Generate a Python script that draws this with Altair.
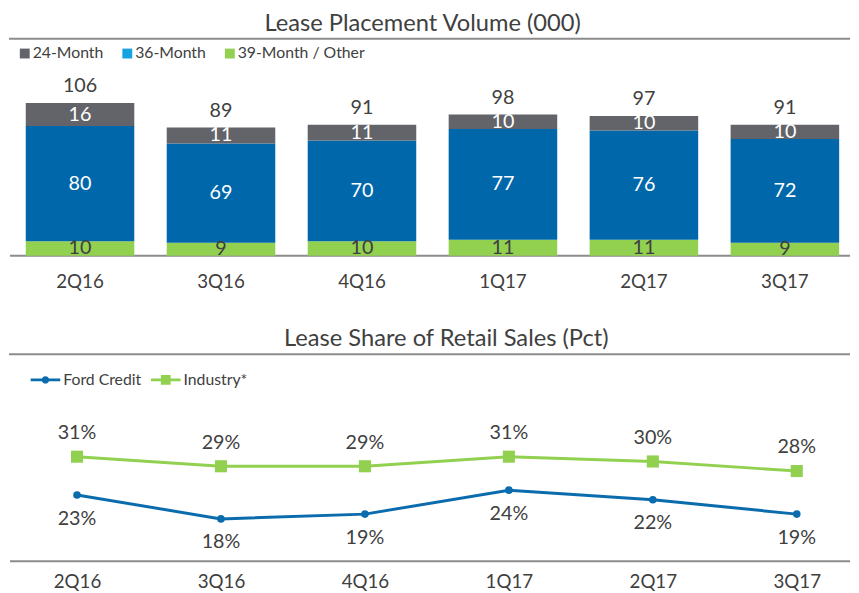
import altair as alt
import pandas as pd

# ---------------- data ----------------
quarters = ["2Q16", "3Q16", "4Q16", "1Q17", "2Q17", "3Q17"]
bar_series = ["24-Month", "36-Month", "39-Month / Other"]
m24 = [16, 11, 11, 10, 10, 10]
m36 = [80, 69, 70, 77, 76, 72]
m39 = [10, 9, 10, 11, 11, 9]
totals = [106, 89, 91, 98, 97, 91]

line_series = ["Ford Credit", "Industry*"]
ford = [23, 18, 19, 24, 22, 19]
industry = [31, 29, 29, 31, 30, 28]

# ---------------- style ----------------
FONT = "Lato"
TEXT = "#404040"
RULE = "#8c8c8c"
W = 851
H1 = 220
H2 = 210

BAR_COLORS = ["#636469", "#0068aa", "#92d050"]
BAR_LEGEND_COLORS = ["#636469", "#17a2e0", "#92d050"]
LINE_COLORS = ["#0a6cad", "#92d050"]

# ---------------- tables ----------------
rows = []
for i, q in enumerate(quarters):
    base = 0
    for s, vals in [("39-Month / Other", m39), ("36-Month", m36), ("24-Month", m24)]:
        v = vals[i]
        rows.append({"quarter": q, "series": s, "value": v,
                     "y0": base, "y1": base + v, "mid": base + v / 2})
        base += v
bars_df = pd.DataFrame(rows)
tot_df = pd.DataFrame({"quarter": quarters, "total": totals})

line_rows = []
for i, q in enumerate(quarters):
    line_rows.append({"quarter": q, "series": "Ford Credit", "value": ford[i],
                      "label": f"{ford[i]}%"})
    line_rows.append({"quarter": q, "series": "Industry*", "value": industry[i],
                      "label": f"{industry[i]}%"})
line_df = pd.DataFrame(line_rows)

one = pd.DataFrame({"a": [0]})

# ---------------- top panel ----------------
xb = alt.X("quarter:N", sort=quarters,
           scale=alt.Scale(domain=quarters, range=[15, 840], paddingInner=0.23, paddingOuter=0),
           axis=alt.Axis(title=None, domain=False, ticks=False, labelAngle=0, labelFont=FONT,
                         labelFontSize=19, labelColor=TEXT, labelPadding=17))
yscale1 = alt.Scale(domain=[0, 150.7], nice=False, zero=False)

bars = alt.Chart(bars_df).mark_bar().encode(
    x=xb,
    y=alt.Y("y0:Q", scale=yscale1, axis=None),
    y2="y1:Q",
    color=alt.Color("series:N", scale=alt.Scale(domain=bar_series, range=BAR_COLORS), legend=None),
)
seg_text = alt.Chart(bars_df).mark_text(font=FONT, fontSize=20, baseline="middle").encode(
    x=alt.X("quarter:N", sort=quarters),
    y=alt.Y("mid:Q"),
    text="value:Q",
    color=alt.condition("datum.series == '39-Month / Other'", alt.value("#404040"), alt.value("white")),
)
tot_text = alt.Chart(tot_df).mark_text(font=FONT, fontSize=20, baseline="bottom", dy=-7, color=TEXT).encode(
    x=alt.X("quarter:N", sort=quarters),
    y=alt.Y("total:Q"),
    text="total:Q",
)
legend1 = alt.Chart(pd.DataFrame({"series": bar_series})).transform_filter("false").mark_point(
    filled=True, opacity=1
).encode(
    fill=alt.Fill("series:N", scale=alt.Scale(domain=bar_series, range=BAR_LEGEND_COLORS),
                  legend=alt.Legend(title=None, orient="none", legendX=6, legendY=7,
                                    direction="horizontal", symbolType="square", symbolSize=100,
                                    symbolStrokeWidth=0, labelFont=FONT, labelFontSize=16,
                                    labelColor=TEXT, labelOffset=0, columnPadding=16)),
)
top_rule = alt.Chart(one).mark_rule(color=RULE, strokeWidth=2).encode(
    x=alt.value(-2), x2=alt.value(W), y=alt.value(0))
base_rule1 = alt.Chart(one).mark_rule(color=RULE, strokeWidth=2).encode(
    x=alt.value(-1), x2=alt.value(W), y=alt.value(H1))

top = alt.layer(top_rule, base_rule1, bars, seg_text, tot_text, legend1).resolve_scale(
    color="independent"
).properties(
    width=W, height=H1,
    title=alt.TitleParams("Lease Placement Volume (000)", font=FONT, fontSize=24, fontWeight="normal",
                          color=TEXT, anchor="middle", offset=2, dx=-8),
)

# ---------------- bottom panel ----------------
xl = alt.X("quarter:N", sort=quarters,
           scale=alt.Scale(type="point", domain=quarters, range=[67, 797], padding=0),
           axis=alt.Axis(title=None, domain=False, ticks=False, labelAngle=0, labelFont=FONT,
                         labelFontSize=19, labelColor=TEXT, labelPadding=12))
yscale2 = alt.Scale(domain=[9.14, 52.4], nice=False, zero=False)

lines = alt.Chart(line_df).mark_line(strokeWidth=3).encode(
    x=xl,
    y=alt.Y("value:Q", scale=yscale2, axis=None),
    color=alt.Color("series:N", scale=alt.Scale(domain=line_series, range=LINE_COLORS), legend=None),
)
ford_pts = alt.Chart(line_df).transform_filter("datum.series == 'Ford Credit'").mark_point(
    filled=True, opacity=1, shape="circle", size=60, color=LINE_COLORS[0]
).encode(x=alt.X("quarter:N", sort=quarters), y="value:Q")
ind_pts = alt.Chart(line_df).transform_filter("datum.series == 'Industry*'").mark_point(
    filled=True, opacity=1, shape="square", size=150, color=LINE_COLORS[1]
).encode(x=alt.X("quarter:N", sort=quarters), y="value:Q")
ford_lab = alt.Chart(line_df).transform_filter("datum.series == 'Ford Credit'").mark_text(
    font=FONT, fontSize=20, baseline="middle", dy=24, color=TEXT
).encode(x=alt.X("quarter:N", sort=quarters), y="value:Q", text="label:N")
ind_lab = alt.Chart(line_df).transform_filter("datum.series == 'Industry*'").mark_text(
    font=FONT, fontSize=20, baseline="middle", dy=-24, color=TEXT
).encode(x=alt.X("quarter:N", sort=quarters), y="value:Q", text="label:N")

FORD_PATH = "M-1,-0.1L1,-0.1L1,0.1L-1,0.1Z M0.25,0A0.25,0.25,0,1,1,-0.25,0A0.25,0.25,0,1,1,0.25,0Z"
IND_PATH = "M-1,-0.1L1,-0.1L1,0.1L-1,0.1Z M-0.33,-0.33L0.33,-0.33L0.33,0.33L-0.33,0.33Z"


def line_legend(name, color, path, lx):
    return alt.Chart(pd.DataFrame({"series": [name]})).transform_filter("false").mark_point(
        filled=True, opacity=1
    ).encode(
        fill=alt.Fill("series:N", scale=alt.Scale(domain=[name], range=[color]),
                      legend=alt.Legend(title=None, orient="none", legendX=lx, legendY=11,
                                        symbolType=path, symbolSize=900, symbolStrokeWidth=0,
                                        labelFont=FONT, labelFontSize=16, labelColor=TEXT,
                                        labelOffset=3)),
    )


leg_ford = line_legend(line_series[0], LINE_COLORS[0], FORD_PATH, 20)
leg_ind = line_legend(line_series[1], LINE_COLORS[1], IND_PATH, 142)

top_rule2 = alt.Chart(one).mark_rule(color=RULE, strokeWidth=2).encode(
    x=alt.value(-2), x2=alt.value(W), y=alt.value(0))
base_rule2 = alt.Chart(one).mark_rule(color=RULE, strokeWidth=2).encode(
    x=alt.value(-1), x2=alt.value(W), y=alt.value(H2))

bottom = alt.layer(top_rule2, base_rule2, lines, ford_pts, ind_pts, ford_lab, ind_lab,
                   leg_ford, leg_ind).resolve_scale(fill="independent").properties(
    width=W, height=H2,
    title=alt.TitleParams("Lease Share of Retail Sales (Pct)", font=FONT, fontSize=24, fontWeight="normal",
                          color=TEXT, anchor="middle", offset=2, dx=16),
)

chart = alt.vconcat(top, bottom, spacing=37).resolve_scale(
    x="independent", y="independent", color="independent", fill="independent"
).properties(padding=0).configure_view(stroke=None)

chart.save("out.html", embed_options={"renderer": "svg", "actions": False})
